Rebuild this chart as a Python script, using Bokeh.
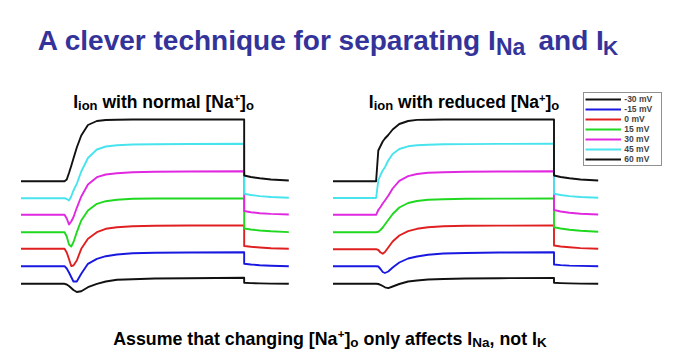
from bokeh.plotting import figure
from bokeh.models import Range1d, Legend, LegendItem
from bokeh.core.properties import value
from bokeh.embed import file_html
from bokeh.resources import INLINE

# ---------------- data ----------------
# time in ms; voltage step from 2 ms to 10 ms
t_ms = [0, 1.95, 2.05, 2.15, 2.25, 2.35, 2.5, 2.7, 3.0, 3.4, 3.8, 4.3, 5.0, 6.0, 7.5,
        10.0, 10.0, 10.3, 10.7, 11.2, 12.0]

# membrane current (arbitrary units, traces staggered as drawn) - normal [Na+]o
normal_m30 = [16.7, 16.7, 16.0, 14.5, 12.5, 10.5, 8.5, 9.3, 13.3, 16.7, 19.0, 20.7, 21.3, 22.0, 22.3,
              22.7, 17.7, 17.4, 17.1, 16.9, 16.7]
normal_m15 = [34.3, 34.3, 32.0, 28.0, 23.5, 19.0, 19.0, 26.7, 36.7, 41.7, 44.3, 46.0, 47.3, 47.7, 48.0,
              48.3, 36.7, 36.0, 35.3, 34.8, 34.3]
normal_0 = [51.7, 51.7, 48.0, 41.5, 34.5, 35.0, 40.0, 51.7, 61.7, 68.3, 71.7, 73.3, 74.3, 74.7, 75.0,
            75.0, 54.5, 53.7, 53.0, 52.3, 51.7]
normal_15 = [68.3, 68.3, 64.0, 56.0, 54.0, 58.3, 68.3, 80.0, 90.0, 96.7, 99.3, 100.7, 101.7, 102.0, 102.0,
             102.0, 72.0, 71.0, 70.0, 69.2, 68.4]
normal_30 = [85.7, 85.7, 82.0, 76.0, 79.0, 83.3, 92.7, 104.0, 116.0, 123.3, 126.0, 127.3, 128.3, 128.7, 129.0,
             129.3, 89.5, 88.3, 87.3, 86.6, 86.0]
normal_45 = [102.3, 102.3, 101.5, 100.0, 104.0, 110.0, 116.7, 129.0, 142.5, 151.0, 154.0, 155.3, 156.0, 156.3, 156.5,
             156.7, 106.7, 105.5, 104.4, 103.5, 102.7]
normal_60 = [119.3, 119.3, 121.0, 127.5, 134.5, 142.0, 153.0, 165.0, 175.5, 179.5, 180.5, 180.8, 181.0, 181.0, 181.0,
             181.0, 125.0, 123.5, 122.2, 121.0, 120.0]

# reduced [Na+]o
reduced_m30 = [16.7, 16.7, 16.5, 15.7, 14.5, 13.2, 12.4, 14.0, 16.5, 19.0, 20.0, 21.0, 21.5, 22.0, 22.3,
               22.5, 17.7, 17.4, 17.1, 16.9, 16.7]
reduced_m15 = [34.3, 34.3, 34.0, 31.5, 28.5, 27.5, 29.0, 33.0, 38.0, 42.0, 44.0, 45.7, 47.0, 47.5, 48.0,
               48.3, 36.0, 35.4, 34.9, 34.6, 34.3]
reduced_0 = [51.3, 51.3, 50.5, 48.0, 46.8, 48.5, 53.0, 59.0, 65.0, 69.3, 71.7, 73.3, 74.2, 74.7, 74.9,
             75.0, 55.0, 54.0, 53.2, 52.4, 51.7]
reduced_15 = [68.3, 68.3, 68.7, 70.5, 73.0, 76.0, 80.5, 86.5, 93.0, 97.5, 99.5, 100.7, 101.3, 101.7, 101.9,
              102.0, 73.3, 72.0, 70.7, 69.7, 68.8]
reduced_30 = [85.7, 85.7, 90.5, 93.5, 97.0, 100.0, 104.7, 112.0, 119.7, 124.3, 126.5, 127.7, 128.3, 128.7, 129.0,
              129.3, 90.5, 89.0, 87.7, 86.7, 86.0]
reduced_45 = [102.5, 102.5, 120.0, 125.5, 130.0, 133.3, 140.0, 146.5, 151.5, 154.2, 155.2, 155.8, 156.2, 156.4, 156.6,
              156.7, 106.7, 105.5, 104.4, 103.5, 102.7]
reduced_60 = [119.3, 119.3, 150.0, 154.5, 159.0, 162.0, 165.5, 171.0, 176.5, 179.5, 180.6, 180.8, 181.0, 181.0, 181.0,
              181.0, 125.0, 123.5, 122.2, 121.0, 120.0]

voltages = ["-30 mV", "-15 mV", "0 mV", "15 mV", "30 mV", "45 mV", "60 mV"]
normal_traces = [normal_m30, normal_m15, normal_0, normal_15, normal_30, normal_45, normal_60]
reduced_traces = [reduced_m30, reduced_m15, reduced_0, reduced_15, reduced_30, reduced_45, reduced_60]

# ---------------- styles ----------------
colors = ["#111111", "#1818E0", "#E02020", "#20D820", "#E028E0", "#48E4EE", "#111111"]
TITLE_COLOR = "#33339A"
FONT = "Liberation Sans"

# Arial/Liberation Sans Bold advance widths (1/1000 em) for laying out text runs
ADV = {' ': 278, ',': 278, '+': 584, '[': 333, ']': 333, 'A': 722, 'I': 278, 'K': 722, 'N': 722,
       'a': 556, 'c': 556, 'd': 611, 'e': 556, 'f': 333, 'g': 611, 'h': 611, 'i': 278, 'l': 278,
       'm': 889, 'n': 611, 'o': 611, 'p': 611, 'q': 611, 'r': 389, 's': 556, 't': 333, 'u': 611,
       'v': 556, 'w': 778, 'y': 556}

W, H = 681, 359
p = figure(width=W, height=H, output_backend="svg", toolbar_location=None,
           x_range=Range1d(0, W), y_range=Range1d(H, 0),
           x_axis_location=None, y_axis_location=None, min_border=0,
           outline_line_color=None, background_fill_color="white", border_fill_color="white")
p.grid.visible = False
p.extra_x_ranges = {"normal": Range1d(-0.9186, 29.596), "reduced": Range1d(-15.045, 15.769)}
p.extra_y_ranges = {"trace": Range1d(-59, 300)}


def txt(s, x, y, size, color="black"):
    p.text(x=[x], y=[y], text=[s], text_font=value(FONT), text_font_style="bold",
           text_font_size=f"{size}px", text_color=color, text_align="left",
           text_baseline="alphabetic")


def width(s, size):
    return sum(ADV[c] for c in s) * size / 1000.0


def runs(parts, x0, y0, color="black"):
    x = x0
    for s, size, dy in parts:
        lead = len(s) - len(s.lstrip(" "))
        body = s.lstrip(" ")
        txt(body, x + width(" " * lead, size), y0 + dy, size, color)
        x += width(s, size)


# main title
txt("A clever technique for separating I", 37.3, 40, 28, TITLE_COLOR)
txt("Na", 495.5, 46.7, 23, TITLE_COLOR)
txt("and I", 538.0, 40, 28, TITLE_COLOR)
txt("K", 602.5, 46.7, 21, TITLE_COLOR)

# panel titles
runs([("I", 17.5, 0), ("ion", 13, 3), (" with normal [Na", 17.5, 0), ("+", 11, -4),
      ("]", 17.5, 0), ("o", 13, 3)], 72.7, 101.7)
runs([("I", 17.5, 0), ("ion", 13, 3), (" with reduced [Na", 17.5, 0), ("+", 11, -4),
      ("]", 17.5, 0), ("o", 13, 3)], 368.3, 101.7)

# footer
runs([("Assume that changing [Na", 17.8, 0), ("+", 11.5, -5), ("]", 17.8, 0), ("o", 13.5, 3.5),
      (" only affects I", 17.8, 0), ("Na", 13.5, 3.5), (", not I", 17.8, 0), ("K", 13.5, 3.5)],
     112.7, 338.3)

# traces
for ys, c in zip(normal_traces, colors):
    p.line(x=t_ms, y=ys, x_range_name="normal", y_range_name="trace",
           line_color=c, line_width=1.9, line_join="round")

reduced_renderers = []
for ys, c in zip(reduced_traces, colors):
    r = p.line(x=t_ms, y=ys, x_range_name="reduced", y_range_name="trace",
               line_color=c, line_width=1.9, line_join="round")
    reduced_renderers.append(r)

legend = Legend(items=[LegendItem(label=v, renderers=[r]) for v, r in zip(voltages, reduced_renderers)],
                location=(583.3, 193), margin=0, padding=1, spacing=0,
                glyph_width=36, glyph_height=10, label_height=10, label_width=36, label_standoff=3,
                label_text_font=FONT, label_text_font_style="bold", label_text_font_size="8.5px",
                border_line_color="#222222", border_line_width=1.5,
                background_fill_color="white", background_fill_alpha=1.0)
p.add_layout(legend)

open("out.html", "w").write(file_html(p, INLINE))
